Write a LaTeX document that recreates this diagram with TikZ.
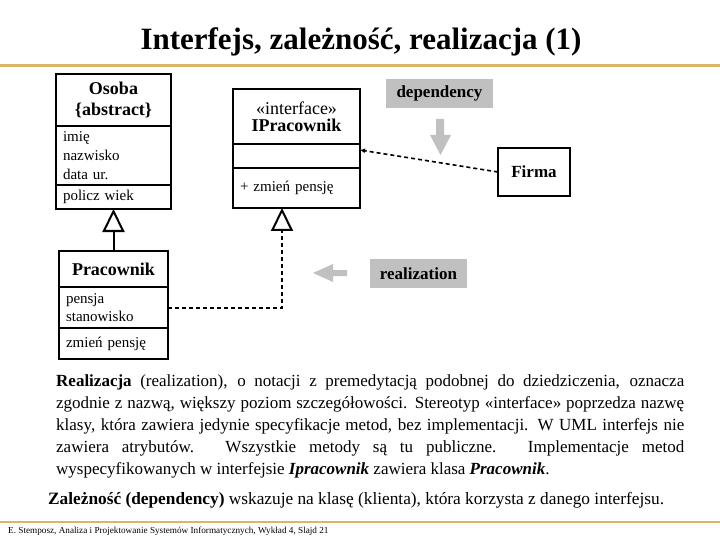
\documentclass[tikz,border=0pt]{standalone}
\usepackage{fontspec}
\setmainfont{Liberation Serif}
\usetikzlibrary{arrows.meta,positioning}
\definecolor{zloto}{HTML}{D8B868}
\definecolor{szary}{HTML}{C0C0C0}

\begin{document}
\begin{tikzpicture}[x=1pt,y=-1pt,
  przedz/.style={draw, line width=2pt, outer sep=0pt, inner ysep=0pt, inner xsep=7pt},
  glowa/.style={przedz, align=center, font=\fontsize{18}{21}\selectfont\bfseries},
  cechy/.style={przedz, align=left, font=\fontsize{15}{19}\selectfont},
  szyld/.style={fill=szary, inner sep=0pt, font=\fontsize{17}{17}\selectfont\bfseries},
  uogol/.style={line width=2pt, -{Triangle[length=23pt, width=22pt, fill=white]}},
  realiz/.style={uogol, dash pattern=on 4pt off 3pt},
  zalezn/.style={line width=1.6pt, dash pattern=on 4pt off 3pt, -{Latex[length=5pt, width=5pt]}}]
\useasboundingbox (0,0) rectangle (720,540);

% naglowek
\node[font=\fontsize{31}{31}\selectfont\bfseries, anchor=base] (tytul) at (361,50) {Interfejs, zależność, realizacja (1)};
\draw[zloto, line width=3pt] (0,66) -- (720,66);

% Osoba
\node[glowa, text width=101pt, minimum height=52pt, anchor=north] (osobaN) at (113.5,74) {Osoba\\\{abstract\}};
\node[cechy, text width=101pt, minimum height=59pt, below=0pt of osobaN] (osobaA) {imię\\nazwisko\\data ur.};
\node[cechy, text width=101pt, minimum height=24pt, below=0pt of osobaA] (osobaO) {policz wiek};

% IPracownik
\node[glowa, text width=113pt, minimum height=55pt, anchor=north, font=\fontsize{18}{17}\selectfont] (iprN) at (296.5,89) {«interface»\\\textbf{IPracownik}};
\node[cechy, text width=113pt, minimum height=24pt, below=0pt of iprN] (iprA) {};
\node[cechy, text width=113pt, minimum height=40pt, below=0pt of iprA] (iprO) {+ zmień pensję};

% Pracownik
\node[glowa, text width=95pt, minimum height=36pt, anchor=north] (pracN) at (113.5,251) {Pracownik};
\node[cechy, text width=95pt, minimum height=41pt, below=0pt of pracN, font=\fontsize{15}{18}\selectfont] (pracA) {pensja\\stanowisko};
\node[cechy, text width=95pt, minimum height=31pt, below=0pt of pracA] (pracO) {zmień pensję};

% Firma
\node[przedz, minimum width=72pt, minimum height=48pt, font=\fontsize{17}{17}\selectfont\bfseries] (firma) at (534,172) {Firma};

% polaczenia
\draw[uogol] (pracN.north) -- (osobaO.south);
\draw[realiz] (pracA.east) -| ([xshift=-14.5pt]iprO.south);
\draw[zalezn] (firma.west) -- ([yshift=6pt]iprA.east);

% objasnienia
\node[szyld, minimum width=107pt, minimum height=29pt] (dep) at (439.5,93.5) {dependency};
\node[szyld, minimum width=97pt, minimum height=29pt] (real) at (418.5,273.5) {realization};
\fill[szary] (436,119) -- (444,119) -- (444,135) -- (451,135) -- (440.5,155) -- (430,135) -- (436,135) -- cycle;
\fill[szary] (347,270) -- (333,270) -- (333,264) -- (313,273) -- (333,282) -- (333,276) -- (347,276) -- cycle;

% tekst
\node[anchor=north west, inner sep=0pt, text width=628pt, align=justify, font=\fontsize{17}{21.8}\selectfont] (opis) at (56,375) {\textbf{Realizacja} (realization), o notacji z premedytacją podobnej do dziedziczenia, oznacza\linebreak
zgodnie z nazwą, większy poziom szczegółowości. Stereotyp «interface» poprzedza nazwę\linebreak
klasy, która zawiera jedynie specyfikacje metod, bez implementacji. W UML interfejs nie\linebreak
zawiera atrybutów. Wszystkie metody są tu publiczne. Implementacje metod\linebreak
wyspecyfikowanych w interfejsie \textbf{\textit{Ipracownik}} zawiera klasa \textbf{\textit{Pracownik}}.};
\node[anchor=base west, inner sep=0pt, font=\fontsize{17.3}{17.3}\selectfont] (zal) at (48,504) {\textbf{Zależność (dependency)} wskazuje na klasę (klienta), która korzysta z danego interfejsu.};

% stopka
\draw[zloto, line width=2pt] (0,522) -- (720,522);
\node[anchor=base west, inner sep=0pt, font=\fontsize{9.2}{9.2}\selectfont] (stopka) at (8,533) {E. Stemposz, Analiza i Projektowanie Systemów Informatycznych, Wykład 4, Slajd 21};
\end{tikzpicture}
\end{document}
